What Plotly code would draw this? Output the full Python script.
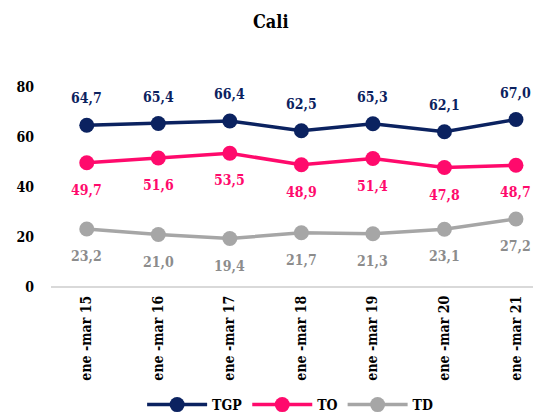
import plotly.graph_objects as go

periods = ["ene -mar 15", "ene -mar 16", "ene -mar 17", "ene -mar 18",
           "ene -mar 19", "ene -mar 20", "ene -mar 21"]
tgp = [64.7, 65.4, 66.4, 62.5, 65.3, 62.1, 67.0]
to = [49.7, 51.6, 53.5, 48.9, 51.4, 47.8, 48.7]
td = [23.2, 21.0, 19.4, 21.7, 21.3, 23.1, 27.2]

font_family = "DejaVu Serif Condensed"
series = [
    ("TGP", tgp, "#0b2260", "#0b2260", 27),
    ("TO", to, "#ff0a6c", "#ff0a6c", -27),
    ("TD", td, "#a6a6a6", "#8c8c8c", -27),
]

fig = go.Figure()
for name, vals, color, tcolor, shift in series:
    fig.add_trace(go.Scatter(
        x=periods, y=vals, name="<b>" + name + "</b>", mode="lines+markers",
        line=dict(color=color, width=3.5),
        marker=dict(color=color, size=15),
        cliponaxis=False,
    ))
    # data labels
    for p, v in zip(periods, vals):
        fig.add_annotation(
            x=p, y=v, yshift=shift, showarrow=False,
            text="<b>" + f"{v:.1f}".replace(".", ",") + "</b>",
            font=dict(color=tcolor, size=14, family=font_family),
        )

# page body has an 8px margin, so the figure is sized to fill the rest
fig.update_layout(
    width=533, height=412,
    margin=dict(l=43, r=0, t=79, b=133, autoexpand=False),
    plot_bgcolor="white", paper_bgcolor="white",
    font=dict(family=font_family, size=14, color="black"),
    title=dict(text="<b>Cali</b>", x=0.493, xanchor="center", y=0.966, yanchor="middle",
               font=dict(size=18, color="black")),
    showlegend=True,
    legend=dict(orientation="h", x=0.488, xanchor="center", y=-0.59, yanchor="middle",
                font=dict(size=14), itemwidth=60),
    xaxis=dict(range=[-0.5, 6.35], tickangle=-90, showgrid=False, showline=False,
               ticks="", automargin=False, ticklabelstandoff=5,
               tickvals=periods, ticktext=["<b>" + p + "</b>" for p in periods],
               tickfont=dict(size=14, color="black")),
    yaxis=dict(range=[0, 80], tickvals=[0, 20, 40, 60, 80],
               ticktext=["<b>" + str(v) + "</b>" for v in [0, 20, 40, 60, 80]],
               showgrid=False, automargin=False,
               zeroline=True, zerolinecolor="#d9d9d9", zerolinewidth=2,
               showline=False, ticks="", ticklabelstandoff=16,
               tickfont=dict(size=14, color="black")),
)

fig.write_html("out.html")
